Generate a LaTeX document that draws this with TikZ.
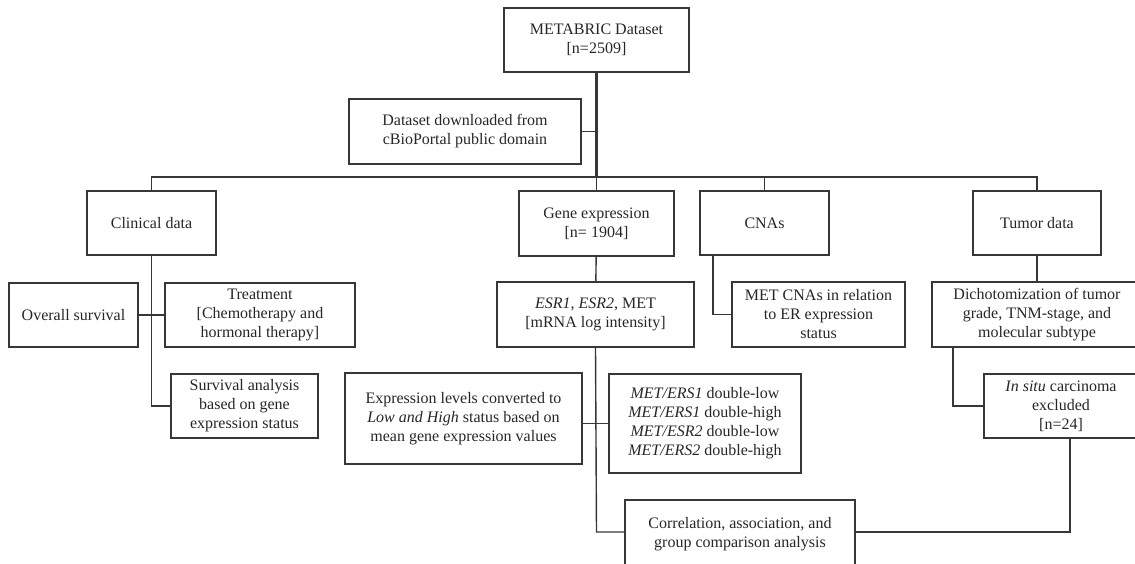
\documentclass[tikz,border=0pt]{standalone}
\usepackage{fontspec}
\setmainfont{Liberation Serif}
\usetikzlibrary{positioning}
\definecolor{lineg}{RGB}{55,55,55}

\begin{document}
\begin{tikzpicture}[x=0.5pt, y=-0.5pt,
        box/.style={draw=lineg, line width=0.7pt, align=center, inner sep=0pt, text=black!85, font=\fontsize{8}{9.5}\selectfont},
        link/.style={draw=lineg, line width=0.7pt},
        trunk/.style={draw=lineg, line width=1.1pt}
    ]
        \useasboundingbox (0,0) rectangle (1135,563);
        \clip (0,0) rectangle (1135,563);

        % 1. The dataset
        \node[box, minimum width=92.5pt, minimum height=32pt] (meta) at (596.5,40) {METABRIC Dataset\\{[n=2509]}};
        \node[box, minimum width=116pt, minimum height=32.5pt] (dload) at (465,131.5) {Dataset downloaded from\\cBioPortal public domain};

        % 2. The four data groups
        \node[box, minimum width=64.5pt, minimum height=32pt] (clin) at (151.5,223) {Clinical data};
        \node[box, minimum width=77.5pt, minimum height=32.5pt] (gene) at (596.5,223.5) {Gene expression\\{[n= 1904]}};
        \node[box, minimum width=64.5pt, minimum height=32pt] (cna) at (764.5,223) {CNAs};
        \node[box, minimum width=64pt, minimum height=32pt] (tumor) at (1037,223) {Tumor data};

        % 3. Clinical branch
        \node[box, minimum width=64.5pt, minimum height=32pt] (overall) at (73.5,315) {Overall survival};
        \node[box, minimum width=95pt, minimum height=32pt] (treat) at (260,315) {Treatment\\{[Chemotherapy and}\\hormonal therapy]};
        \node[box, minimum width=73.5pt, minimum height=32pt] (surv) at (244.5,406) {Survival analysis\\based on gene\\expression status};

        % 4. Gene expression branch
        \node[box, minimum width=98.5pt, minimum height=32.5pt] (esr) at (595.5,314.5) {\textit{ESR1}, \textit{ESR2}, MET\\{[mRNA log intensity]}};
        \node[box, minimum width=118.5pt, minimum height=45.5pt] (expr) at (463.5,418.5) {Expression levels converted to\\\textit{Low and High} status based on\\mean gene expression values};
        \node[box, minimum width=96pt, minimum height=49.5pt] (metesr) at (705,423.5) {\textit{MET/ERS1} double-low\\\textit{MET/ERS1} double-high\\\textit{MET/ESR2} double-low\\\textit{MET/ERS2} double-high};
        \node[box, minimum width=115pt, minimum height=34pt] (corr) at (740,534) {Correlation, association, and\\group comparison analysis};

        % 5. CNA and tumor branches
        \node[box, minimum width=86.5pt, minimum height=32.5pt] (cnamet) at (818.5,314.5) {MET CNAs in relation\\to ER expression\\status};
        \node[box, minimum width=105pt, minimum height=32.5pt] (dich) at (1037,314.5) {Dichotomization of tumor\\grade, TNM-stage, and\\molecular subtype};
        \node[box, minimum width=77pt, minimum height=32pt] (insitu) at (1061,406) {\textit{In situ} carcinoma\\excluded\\{[n=24]}};

        % Joints
        \coordinate (busM) at (596.5,177);
        \coordinate (clinend) at (151.5,406);
        \coordinate (esrend) at (596.5,532);
        \coordinate (cnadrop) at (713,255.5);
        \coordinate (dichdrop) at (953,347);
        \coordinate (insdrop) at (1070,438);

        % Connectors
        \draw[trunk] (meta) -- (busM);
        \draw[link] (dload.east) -- (dload.east -| busM);
        \draw[link] (clin.north) -- (clin.north |- busM) -- (tumor.north |- busM) -- (tumor.north);
        \draw[link] (busM) -- (gene);
        \draw[link] (cna.north |- busM) -- (cna.north);
        \draw[link] (clin) -- (clinend) -- (surv.west);
        \draw[link] (overall.east) -- (treat.west);
        \draw[link] (gene) -- (esr);
        \draw[link] (esr.south) -- (esrend) -- (esrend -| corr.west);
        \draw[link] (metesr.west) -- (metesr.west -| expr.east);
        \draw[link] (cnadrop) |- (cnamet.west);
        \draw[link] (tumor) -- (dich);
        \draw[link] (dichdrop) |- (insitu.west);
        \draw[link] (insdrop) -- (insdrop |- esrend) -- (esrend -| corr.east);

    \end{tikzpicture}
\end{document}
